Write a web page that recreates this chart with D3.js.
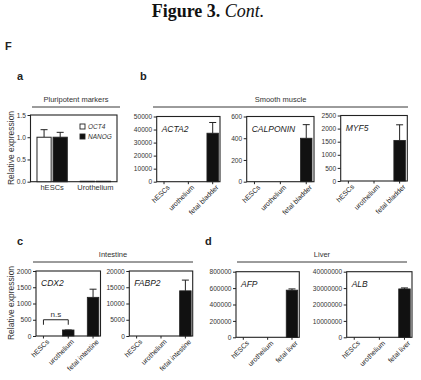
<!DOCTYPE html>
<html>
<head>
<meta charset="utf-8">
<script src="https://cdn.jsdelivr.net/npm/d3@7"></script>
<style>
  html, body { margin: 0; padding: 0; background: #fff; }
  svg { display: block; font-family: 'Liberation Sans', Arial, sans-serif; }
</style>
</head>
<body>
<div id="app"></div>
<script>
'use strict'

// ---- data ----
const pluriGroups = ['hESCs', 'Urothelium']
const pluriSeries = ['OCT4', 'NANOG']
const oct4Values = [1.0, 0.01]
const oct4Err = [0.17, 0]
const nanogValues = [1.0, 0.01]
const nanogErr = [0.11, 0]

const bladderCats = ['hESCs', 'urothelium', 'fetal bladder']
const intestineCats = ['hESCs', 'urothelium', 'fetal intestine']
const liverCats = ['hESCs', 'urothelium', 'fetal liver']

const acta2Values = [0, 0, 37200]
const acta2Err = [0, 0, 8200]
const calponinValues = [0, 0, 400]
const calponinErr = [0, 0, 125]
const myf5Values = [0, 0, 1550]
const myf5Err = [0, 0, 595]
const cdx2Values = [0, 185, 1190]
const cdx2Err = [0, 0, 250]
const fabp2Values = [0, 0, 13900]
const fabp2Err = [0, 0, 3300]
const afpValues = [0, 0, 575000]
const afpErr = [0, 0, 15000]
const albValues = [0, 0, 29500000]
const albErr = [0, 0, 600000]

const W = 421, H = 380
const ink = '#222'

const svg = d3.select('#app').append('svg')
  .attr('width', W)
  .attr('height', H)

// title
const title = svg.append('text')
  .attr('x', 208).attr('y', 17)
  .attr('text-anchor', 'middle')
  .style('font-family', "'Liberation Serif', 'Times New Roman', serif")
  .style('font-size', '18px')
  .style('fill', '#111')
title.append('tspan').style('font-weight', 'bold').text('Figure 3. ')
title.append('tspan').style('font-style', 'italic').text('Cont.')

const letter = (x, y, t) => svg.append('text')
  .attr('x', x).attr('y', y)
  .style('font-size', '11px').style('font-weight', 'bold').style('fill', ink)
  .text(t)

letter(5, 50, 'F')
letter(17, 80, 'a')
letter(140, 80, 'b')
letter(17, 245, 'c')
letter(205, 245, 'd')

// group headings with a rule underneath
const heading = (x0, x1, y, t) => {
  svg.append('text')
    .attr('x', (x0 + x1) / 2).attr('y', y)
    .attr('text-anchor', 'middle')
    .style('font-size', '7.5px').style('fill', '#333')
    .text(t)
  svg.append('line')
    .attr('x1', x0).attr('x2', x1)
    .attr('y1', y + 5.5).attr('y2', y + 5.5)
    .style('stroke', ink).style('stroke-width', 0.9)
}

heading(32, 120, 101.5, 'Pluripotent markers')
heading(153, 408, 101.5, 'Smooth muscle')
heading(33, 193, 256.5, 'Intestine')
heading(237, 407, 256.5, 'Liver')

const yLabel = (x, cy) => svg.append('text')
  .attr('transform', `translate(${x},${cy}) rotate(-90)`)
  .attr('text-anchor', 'middle')
  .style('font-size', '8.5px').style('fill', '#333')
  .text('Relative expression')

yLabel(14, 148)
yLabel(14, 303)

// y axis + frame for one panel
function frame(g, x0, x1, y0, y1, yScale, step) {
  const ticks = d3.range(0, yScale.domain()[1] + step / 2, step)
  g.append('g')
    .attr('transform', `translate(${x0},0)`)
    .call(d3.axisLeft(yScale).tickValues(ticks).tickSize(3).tickPadding(1.5).tickFormat(d3.format('d')))
    .call(a => a.select('.domain').remove())
    .call(a => a.selectAll('line').style('stroke', ink))
    .call(a => a.selectAll('text').style('font-size', '6.6px').style('fill', '#333').style('font-family', "'Liberation Sans', Arial, sans-serif"))
  g.append('rect')
    .attr('x', x0).attr('y', y0)
    .attr('width', x1 - x0).attr('height', y1 - y0)
    .style('fill', 'none').style('stroke', ink).style('stroke-width', 1.1)
}

function errBar(g, cx, yTop, yBase, half) {
  g.append('line')
    .attr('x1', cx).attr('x2', cx).attr('y1', yTop).attr('y2', yBase)
    .style('stroke', ink).style('stroke-width', 1)
  g.append('line')
    .attr('x1', cx - half).attr('x2', cx + half).attr('y1', yTop).attr('y2', yTop)
    .style('stroke', ink).style('stroke-width', 1)
}

// three-category tissue panel
function tissuePanel(opt) {
  const { x0, x1, y0, y1, cats, values, errs, max, step, gene } = opt
  const g = svg.append('g')
  const x = d3.scalePoint().domain(cats).range([x0, x1]).padding(0.3)
  const y = d3.scaleLinear().domain([0, max]).range([y1, y0])
  const bw = 11.5

  frame(g, x0, x1, y0, y1, y, step)

  cats.forEach((c, i) => {
    const v = values[i]
    if (v > 0) {
      errBar(g, x(c), y(v + errs[i]), y(v), 3.5)
      g.append('rect')
        .attr('x', x(c) - bw / 2).attr('y', y(v))
        .attr('width', bw).attr('height', y1 - y(v))
        .style('fill', '#111').style('stroke', ink).style('stroke-width', 0.8)
    }
    // x tick
    g.append('line')
      .attr('x1', x(c)).attr('x2', x(c)).attr('y1', y1).attr('y2', y1 + 2.5)
      .style('stroke', ink)
    g.append('text')
      .attr('transform', `translate(${x(c) + 4.5},${y1 + 4.5}) rotate(-45)`)
      .attr('text-anchor', 'end')
      .attr('dy', '0.35em')
      .style('font-size', '7px').style('fill', '#222')
      .text(c)
  })

  g.append('text')
    .attr('x', x0 + 5).attr('y', y0 + 15)
    .style('font-size', '8.5px').style('font-style', 'italic').style('fill', '#222')
    .text(gene)
  return { g, x, y }
}

// ---- panel a ----
{
  const x0 = 30.5, x1 = 117, y0 = 115, y1 = 181.7
  const g = svg.append('g')
  const x = d3.scaleBand().domain(pluriGroups).range([x0, x1]).paddingInner(0.3).paddingOuter(0.15)
  const xs = d3.scaleBand().domain(pluriSeries).range([0, x.bandwidth()]).paddingInner(0.12)
  const y = d3.scaleLinear().domain([0, 1.5]).range([y1, y0])
  const seriesVals = [oct4Values, nanogValues]
  const seriesErr = [oct4Err, nanogErr]
  const fills = ['#fff', '#111']

  frame(g, x0, x1, y0, y1, y, 0.5)
  g.select('g').selectAll('text').text(d => d3.format('.1f')(d))

  pluriGroups.forEach((grp, i) => {
    pluriSeries.forEach((s, j) => {
      const v = seriesVals[j][i]
      const bx = x(grp) + xs(s)
      if (seriesErr[j][i] > 0) errBar(g, bx + xs.bandwidth() / 2, y(v + seriesErr[j][i]), y(v), 3.5)
      g.append('rect')
        .attr('x', bx).attr('y', y(v))
        .attr('width', xs.bandwidth()).attr('height', y1 - y(v))
        .style('fill', fills[j]).style('stroke', ink).style('stroke-width', 1)
    })
    g.append('text')
      .attr('x', x(grp) + x.bandwidth() / 2).attr('y', y1 + 8)
      .attr('text-anchor', 'middle')
      .style('font-size', '7.5px').style('fill', '#333')
      .text(grp)
  })

  // legend
  pluriSeries.forEach((s, j) => {
    g.append('rect')
      .attr('x', 80).attr('y', 124 + j * 10)
      .attr('width', 5).attr('height', 5)
      .style('fill', fills[j]).style('stroke', ink).style('stroke-width', 0.9)
    g.append('text')
      .attr('x', 88).attr('y', 129 + j * 10)
      .style('font-size', '6.5px').style('font-style', 'italic').style('fill', '#333')
      .text(s)
  })
}

// ---- panel b ----
tissuePanel({ x0: 156.7, x1: 220, y0: 116.5, y1: 181.7, cats: bladderCats, values: acta2Values, errs: acta2Err, max: 50000, step: 10000, gene: 'ACTA2' })
tissuePanel({ x0: 246.7, x1: 314, y0: 116.5, y1: 181.7, cats: bladderCats, values: calponinValues, errs: calponinErr, max: 600, step: 200, gene: 'CALPONIN' })
tissuePanel({ x0: 340.7, x1: 407.3, y0: 115.5, y1: 181, cats: bladderCats, values: myf5Values, errs: myf5Err, max: 2500, step: 500, gene: 'MYF5' })

// ---- panel c ----
const cdx2 = tissuePanel({ x0: 36, x1: 100.5, y0: 271, y1: 336, cats: intestineCats, values: cdx2Values, errs: cdx2Err, max: 2000, step: 500, gene: 'CDX2' })
tissuePanel({ x0: 129.3, x1: 192.7, y0: 271, y1: 336, cats: intestineCats, values: fabp2Values, errs: fabp2Err, max: 20000, step: 5000, gene: 'FABP2' })

// n.s bracket between hESCs and urothelium
{
  const xa = cdx2.x(intestineCats[0]), xb = cdx2.x(intestineCats[1])
  const yb = cdx2.y(500)
  cdx2.g.append('path')
    .attr('d', `M${xa},${yb + 5}V${yb}H${xb}V${yb + 5}`)
    .style('fill', 'none').style('stroke', ink).style('stroke-width', 1)
  cdx2.g.append('text')
    .attr('x', (xa + xb) / 2).attr('y', yb - 3)
    .attr('text-anchor', 'middle')
    .style('font-size', '8px').style('fill', '#333')
    .text('n.s')
}

// ---- panel d ----
tissuePanel({ x0: 236, x1: 299.3, y0: 271.7, y1: 337.3, cats: liverCats, values: afpValues, errs: afpErr, max: 800000, step: 200000, gene: 'AFP' })
tissuePanel({ x0: 346.7, x1: 412, y0: 271.7, y1: 337.3, cats: liverCats, values: albValues, errs: albErr, max: 40000000, step: 10000000, gene: 'ALB' })
</script>
</body>
</html>
